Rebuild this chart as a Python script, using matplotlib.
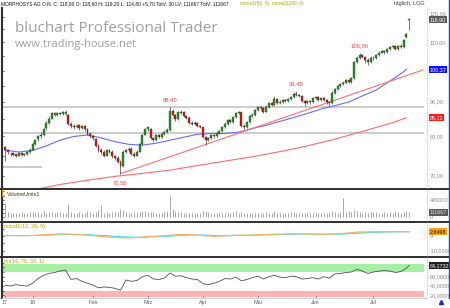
import matplotlib
matplotlib.use("Agg")
import matplotlib.pyplot as plt
from matplotlib.lines import Line2D
import numpy as np

W, H = 450, 308  # figure size in pixels

# ---------------- data ----------------
opens = [
    77.2, 76.4, 75.3, 75.6, 75.3, 75.0, 75.6, 75.2, 75.4, 75.8,
    76.5, 78.0, 79.2, 80.0, 80.5, 82.2, 83.8, 85.0, 86.5, 86.0,
    86.6, 86.3, 86.2, 86.0, 83.5, 83.0, 82.5, 83.2, 82.4, 82.8,
    82.0, 80.8, 80.0, 79.3, 77.5, 76.5, 76.0, 75.0, 76.4, 76.0,
    74.8, 74.5, 73.5, 72.5, 76.0, 76.3, 76.8, 75.5, 75.0, 76.0,
    78.0, 80.5, 82.0, 82.0, 79.5, 79.0, 80.5, 79.8, 80.8, 81.3,
    81.8, 87.2, 86.0, 84.8, 86.5, 87.0, 85.8, 85.3, 83.8, 83.5,
    83.8, 83.0, 82.5, 79.8, 79.0, 79.5, 80.3, 80.0, 81.0, 81.5,
    82.5, 83.5, 84.5, 84.0, 85.5, 86.5, 86.8, 83.0, 82.5, 84.0,
    85.8, 86.0, 87.5, 88.3, 88.0, 87.0, 88.5, 89.5, 89.0, 90.8,
    89.5, 90.0, 90.5, 90.2, 90.8, 91.5, 92.5, 92.0, 91.8, 90.2,
    89.5, 90.2, 89.8, 91.0, 91.3, 90.6, 91.0, 90.5, 89.8, 89.5,
    92.8, 94.0, 94.8, 95.5, 96.0, 96.8, 96.2, 97.5, 103.0, 104.5,
    105.5, 104.8, 103.8, 103.0, 104.5, 104.2, 105.5, 106.3, 106.8, 106.5,
    107.5, 108.2, 108.5, 107.5, 108.8, 108.3, 112.0, 118.6,
]
highs = [
    77.5, 76.8, 75.9, 75.9, 75.5, 75.9, 75.8, 75.7, 76.1, 76.9,
    78.4, 79.4, 80.4, 81.2, 82.4, 84.2, 85.6, 87.0, 86.9, 86.9,
    87.0, 87.2, 87.4, 86.3, 83.9, 83.4, 83.5, 83.5, 83.2, 83.1,
    82.3, 81.2, 80.4, 79.6, 77.9, 76.9, 76.4, 76.8, 76.8, 76.3,
    75.2, 74.9, 73.9, 76.4, 76.7, 77.3, 77.1, 75.9, 76.3, 78.3,
    80.8, 82.3, 82.9, 82.3, 79.9, 80.8, 80.8, 81.0, 81.6, 82.2,
    88.4, 87.8, 86.3, 87.1, 87.5, 87.2, 86.1, 85.6, 84.2, 84.2,
    84.1, 83.3, 82.7, 80.1, 79.9, 80.7, 80.6, 81.3, 81.9, 82.8,
    83.9, 85.0, 84.8, 85.8, 86.9, 87.3, 87.0, 83.4, 84.3, 86.1,
    86.5, 87.8, 88.6, 88.6, 88.3, 88.9, 90.0, 89.8, 91.9, 91.0,
    90.4, 90.9, 90.9, 91.2, 91.9, 92.9, 93.4, 92.4, 92.0, 90.5,
    90.6, 90.5, 91.4, 91.8, 91.6, 91.4, 91.3, 90.8, 90.0, 93.2,
    94.4, 95.3, 95.9, 96.4, 97.3, 97.1, 97.9, 103.4, 105.0, 106.0,
    105.9, 105.2, 104.2, 104.9, 105.0, 105.9, 106.8, 107.3, 107.1, 107.9,
    108.7, 109.0, 108.9, 109.2, 109.3, 111.4, 113.6, 119.2,
]
lows = [
    73.6, 75.4, 74.9, 74.9, 74.6, 74.8, 74.9, 74.9, 75.2, 75.6,
    76.3, 77.6, 78.8, 79.7, 80.2, 81.8, 83.5, 84.8, 85.6, 85.7,
    85.9, 85.9, 85.9, 83.2, 82.4, 82.1, 82.2, 81.9, 82.1, 81.6,
    80.3, 79.6, 79.0, 77.2, 75.8, 75.5, 74.6, 74.8, 75.6, 74.4,
    74.0, 73.2, 70.55, 72.2, 75.6, 75.9, 75.2, 74.7, 74.8, 75.8,
    77.8, 80.3, 81.6, 79.2, 78.6, 78.8, 79.5, 79.7, 80.5, 81.0,
    81.5, 85.6, 84.3, 84.5, 86.2, 85.5, 85.0, 83.5, 83.1, 83.2,
    82.7, 82.2, 79.5, 77.6, 78.7, 79.2, 79.6, 79.8, 80.7, 81.2,
    82.3, 83.3, 83.7, 83.8, 85.2, 86.2, 82.7, 82.0, 82.2, 83.8,
    85.5, 85.8, 87.2, 87.6, 86.5, 86.8, 88.2, 88.6, 88.8, 89.2,
    89.2, 89.7, 89.9, 89.9, 90.5, 91.2, 91.7, 91.4, 89.9, 88.6,
    89.2, 89.4, 89.5, 90.7, 90.2, 90.3, 90.1, 89.4, 88.8, 89.3,
    92.5, 93.7, 94.5, 95.2, 95.8, 95.8, 95.9, 97.2, 102.5, 104.0,
    104.3, 102.6, 101.9, 102.7, 103.8, 103.9, 105.1, 106.0, 105.6, 106.2,
    107.2, 107.9, 107.1, 107.3, 107.9, 108.0, 111.8, 114.8,
]
closes = [
    76.4, 75.8, 75.5, 75.2, 75.0, 75.6, 75.2, 75.4, 75.8, 76.5,
    78.0, 79.0, 80.0, 80.5, 82.0, 83.8, 85.0, 86.5, 86.0, 86.5,
    86.3, 86.8, 87.0, 83.5, 82.8, 82.5, 83.0, 82.4, 82.8, 82.0,
    80.8, 80.0, 79.5, 77.5, 76.5, 76.0, 75.0, 76.4, 76.0, 74.8,
    74.5, 73.5, 72.3, 76.0, 76.3, 76.8, 75.5, 75.0, 76.0, 78.0,
    80.5, 82.0, 82.5, 79.5, 79.0, 80.5, 79.8, 80.8, 81.3, 81.8,
    87.2, 86.0, 84.8, 86.8, 87.0, 85.8, 85.3, 83.8, 83.5, 83.8,
    83.0, 82.5, 79.8, 79.0, 79.5, 80.3, 80.0, 81.0, 81.5, 82.5,
    83.5, 84.5, 84.0, 85.5, 86.5, 86.8, 83.0, 82.5, 84.0, 85.8,
    86.0, 87.5, 88.3, 88.0, 87.0, 88.5, 89.5, 89.0, 90.8, 89.5,
    90.0, 90.5, 90.2, 90.8, 91.5, 92.5, 92.0, 91.8, 90.2, 89.5,
    90.2, 89.8, 91.0, 91.3, 90.6, 91.0, 90.5, 89.8, 89.5, 92.8,
    94.0, 94.8, 95.5, 96.0, 96.8, 96.2, 97.5, 103.0, 104.5, 105.5,
    104.8, 103.8, 103.0, 104.5, 104.2, 105.5, 106.3, 106.8, 106.5, 107.5,
    108.2, 108.5, 107.5, 108.8, 108.3, 111.0, 113.2, 118.9,
]
volume = [
    330000, 115000, 100000, 95000, 110000, 90000, 120000, 100000, 95000, 115000,
    130000, 110000, 120000, 95000, 140000, 100000, 115000, 130000, 110000, 120000,
    125000, 105000, 100000, 290000, 120000, 110000, 95000, 115000, 105000, 100000,
    150000, 120000, 110000, 130000, 180000, 290000, 110000, 120000, 105000, 115000,
    120000, 130000, 190000, 180000, 125000, 110000, 100000, 130000, 115000, 120000,
    150000, 140000, 120000, 130000, 115000, 110000, 100000, 105000, 120000, 150000,
    485000, 200000, 140000, 130000, 115000, 110000, 95000, 100000, 110000, 100000,
    105000, 110000, 150000, 140000, 130000, 110000, 100000, 105000, 95000, 100000,
    110000, 100000, 95000, 120000, 150000, 110000, 130000, 100000, 95000, 110000,
    100000, 105000, 95000, 110000, 100000, 120000, 110000, 105000, 140000, 100000,
    95000, 110000, 100000, 105000, 120000, 130000, 110000, 100000, 95000, 105000,
    100000, 95000, 110000, 100000, 105000, 100000, 110000, 95000, 110000, 150000,
    120000, 110000, 130000, 447000, 120000, 155000, 120000, 180000, 150000, 130000,
    110000, 120000, 100000, 115000, 130000, 120000, 110000, 100000, 115000, 105000,
    120000, 110000, 140000, 130000, 100000, 130000, 140000, 111667,
]

ma50_day = [0, 5, 10, 15, 20, 25, 30, 35, 40, 45, 50, 55, 60, 65, 70, 75,
            80, 85, 90, 95, 100, 105, 110, 115, 120, 125, 130, 135, 140, 145, 146]
ma50 = [76.4, 75.9, 76.3, 77.5, 79.0, 80.0, 80.4, 79.6, 78.6, 77.9, 77.7, 78.2,
        79.0, 79.8, 80.6, 80.8, 80.8, 81.2, 82.2, 83.1, 84.2, 85.3, 86.5, 87.8,
        88.8, 89.9, 91.8, 93.6, 96.5, 99.6, 100.37]
ma200_day = [12, 20, 30, 40, 50, 60, 70, 80, 90, 100, 110, 120, 130, 140, 146]
ma200 = [67.0, 68.0, 69.0, 69.9, 70.6, 71.4, 72.5, 73.6, 74.7, 76.0, 77.5,
         79.3, 81.4, 83.6, 85.22]
trend_day = [42, 152]
trend_val = [70.55, 100.2]
levels = [88.40, 80.90]
short_level = 72.2

macd_day = [0, 4, 8, 12, 16, 20, 24, 28, 32, 36, 40, 44, 48, 52, 56, 60, 64, 68, 72,
            76, 80, 84, 88, 92, 96, 100, 104, 108, 112, 116, 120, 124, 128, 132,
            136, 140, 144, 147]
macd = [0.3, 0.2, 0.2, 0.6, 1.1, 1.4, 1.2, 0.8, 0.2, -0.5, -1.1, -1.3, -1.0, -0.3,
        0.0, 0.6, 1.0, 0.9, 0.2, -0.2, 0.1, 0.6, 0.5, 0.9, 1.1, 1.3, 1.5, 1.4, 1.2,
        1.1, 1.4, 1.9, 2.6, 2.8, 2.9, 2.9, 2.8, 2.85]
signal = [0.4, 0.3, 0.25, 0.35, 0.6, 0.9, 1.1, 1.0, 0.7, 0.3, -0.2, -0.6, -0.9, -0.7,
          -0.4, -0.1, 0.4, 0.7, 0.6, 0.3, 0.1, 0.3, 0.4, 0.6, 0.8, 1.0, 1.2, 1.3,
          1.3, 1.2, 1.2, 1.4, 1.8, 2.2, 2.5, 2.7, 2.8, 2.8]

rsi_day = list(range(0, 147, 2)) + [147]
rsi = [42, 40, 43, 41, 40, 46, 56, 63, 67, 69, 72, 74, 54, 56, 50, 46, 42, 36, 38,
       37, 35, 31, 53, 50, 52, 60, 63, 55, 54, 57, 68, 61, 62, 58, 55, 54, 45, 43,
       46, 50, 56, 55, 59, 51, 54, 58, 61, 55, 60, 63, 59, 58, 61, 60, 55, 56, 58,
       55, 60, 57, 66, 67, 69, 70, 76, 72, 67, 70, 72, 73, 72, 69, 71, 78, 84.17]

month_day = [0, 10, 32, 52, 72, 92, 113, 134]
month_labels = ["17", "18", "Feb", "Mrz", "Apr", "Mai", "Jun", "Jul"]

peaks = [(60, 88.40, "88,40"), (106, 93.40, "93,40"), (129, 106.00, "106,00")]
trough = (42, 70.55, "70,55")

header = ("MORPHOSYS AG O.N. C: 118,90 O: 118,60 H: 119,20 L: 114,80 +5,70 "
          "TotV: 30 LV: 111667 TotV: 111667")

# ---------------- layout helpers ----------------
fig = plt.figure(figsize=(W / 100, H / 100), dpi=100)
fig.patch.set_facecolor("white")
plt.rcParams["font.family"] = ["Liberation Sans", "DejaVu Sans"]


def pane(y0, y1, x0=2, x1=424):
    a = fig.add_axes([x0 / W, 1 - y1 / H, (x1 - x0) / W, (y1 - y0) / H])
    a.set_xlim(-1.1, 152.4)
    for s in ("top", "right"):
        a.spines[s].set_visible(False)
    a.spines["left"].set_color("#303030")
    a.spines["left"].set_linewidth(0.8)
    a.spines["bottom"].set_visible(False)
    a.set_xticks([])
    a.tick_params(axis="y", direction="in", length=1.5, width=0.5,
                  labelleft=False, color="#303030")
    a.patch.set_alpha(0)
    return a


def fline(x0, y0, x1, y1, **kw):
    fig.add_artist(Line2D([x0 / W, x1 / W], [1 - y0 / H, 1 - y1 / H],
                          transform=fig.transFigure, **kw))


def rlabel(a, v, s, fc=None, color="#8a8a8a", z=3):
    kw = dict(transform=a.get_yaxis_transform(), fontsize=3.9, va="center",
              ha="left", color=color, clip_on=False, zorder=z)
    if fc is not None:
        kw["bbox"] = dict(boxstyle="square,pad=0.18", fc=fc, ec="none")
    a.text(1.013, v, s, **kw)


GREEN = "#14a014"
RED = "#e01010"
PANE_COL = "#b8a400"

# ---------------- main price pane ----------------
ax = pane(7, 188)
ax.set_yscale("log")
ax.set_ylim(67.2, 124.0)
ax.set_yticks([70, 75, 80, 85, 90, 95, 100, 105, 110, 115, 120])
ax.minorticks_off()

idx = np.arange(len(closes))
o = np.array(opens)
c = np.array(closes)
lo_b = np.minimum(o, c)
hi_b = np.maximum(o, c)
hgt = np.maximum(hi_b - lo_b, 0.15)
up = c >= o

ax.hlines(levels, -1.1, 152.4, color="#c4c4c4", lw=1.2, zorder=1)
ax.hlines(short_level, -1.1, 13.5, color="#c4c4c4", lw=1.2, zorder=1)

ax.vlines(idx, lows, highs, color="#303030", lw=0.45, zorder=3)
ax.bar(idx[up], hgt[up], bottom=lo_b[up], width=0.72, color=GREEN,
       edgecolor="#303030", linewidth=0.25, zorder=4)
ax.bar(idx[~up], hgt[~up], bottom=lo_b[~up], width=0.72, color=RED,
       edgecolor="#303030", linewidth=0.25, zorder=4)

ax.plot(ma50_day, ma50, color="#6a6aff", lw=0.8, zorder=2)
ax.plot(ma200_day, ma200, color="#ff6a6a", lw=0.8, zorder=2)
ax.plot(trend_day, trend_val, color="#ff7070", lw=0.8, zorder=2)

for d, v, s in peaks:
    ax.annotate(s, (d, v), xytext=(0, 3.5), textcoords="offset points",
                ha="center", va="bottom", fontsize=4.2, color="#ff4040")
ax.annotate(trough[2], (trough[0], trough[1]), xytext=(0, -4.5),
            textcoords="offset points", ha="center", va="top", fontsize=4.2,
            color="#ff4040")

for v in [70, 80, 90, 110]:
    rlabel(ax, v, f"{v},00")
rlabel(ax, 121.0, "120,00", z=2)
rlabel(ax, 118.9, "118,90", fc="#5a5a5a", color="white", z=5)
rlabel(ax, 100.37, "100,37", fc="#1010ff", color="white")
rlabel(ax, 85.22, "85,22", fc="#ff1a1a", color="white")

# ---------------- volume pane ----------------
axv = pane(190, 220)
axv.set_ylim(-62000, 631000)
axv.set_yticks([0, 100000, 200000, 300000, 400000, 500000, 600000])
axv.vlines(idx, 0, volume, color="#a8a8a8", lw=0.7)
rlabel(axv, 400000, "400000")
rlabel(axv, 0, "0")
rlabel(axv, 111667, "111667", fc="#5a5a5a", color="#e0e0e0")
axv.text(0.012, 0.93, "VolumeUnits1", transform=axv.transAxes, fontsize=3.9,
         va="top", ha="left", color="#404000")

# ---------------- macd pane ----------------
axm = pane(223, 255)
axm.set_ylim(-12.67, 8.67)
axm.set_yticks([-10, -5, 0, 5])
md = np.array(macd)
sg = np.array(signal)
axm.fill_between(macd_day, md, sg, where=md >= sg, color="#b8f0b8",
                 lw=0, interpolate=True)
axm.fill_between(macd_day, md, sg, where=md < sg, color="#ffb8b8",
                 lw=0, interpolate=True)
axm.plot(macd_day, sg, color="#40e0f0", lw=0.8)
axm.plot(macd_day, md, color="#ffb060", lw=0.8)
rlabel(axm, 0, "0")
rlabel(axm, -10, "-10,0000")
rlabel(axm, 2.85, "2,8498", fc="#ffa010", color="#202020")
axm.text(0.005, 0.97, "macd1(12, 26, 9)", transform=axm.transAxes,
         fontsize=3.9, va="top", ha="left", color=PANE_COL)

# ---------------- rsi pane ----------------
axr = pane(258, 297)
axr.set_ylim(16.5, 100.0)
axr.set_yticks([20, 30, 40, 50, 60, 70, 80, 90])
axr.axhspan(70, 87, color="#a6f0a6", lw=0, zorder=0)
axr.axhspan(16.5, 30, color="#ffb4b4", lw=0, zorder=0)
axr.plot(rsi_day, rsi, color="#505050", lw=0.6)
for v in [60, 40, 20]:
    rlabel(axr, v, f"{v},0000")
rlabel(axr, 84.17, "84,1732", fc="#202020", color="white")
axr.text(0.005, 0.98, "rsi(14, 70, 30, 1)", transform=axr.transAxes,
         fontsize=3.9, va="top", ha="left", color=PANE_COL)

# month labels under the last pane
for d, s in zip(month_day, month_labels):
    axr.text(d, -0.08, s, transform=axr.get_xaxis_transform(), fontsize=3.9,
             ha="center", va="top", color="#606060", clip_on=False)
    axr.plot([d, d], [0, 0.03], transform=axr.get_xaxis_transform(),
             color="#606060", lw=0.5, clip_on=False)

# ---------------- frame lines ----------------
for y in (188.5, 221.5, 256.5):
    fline(0, y, 450, y, color="#202020", lw=1.3)
fline(0, 298, 427, 298, color="#c8c8c8", lw=0.6)
fline(427, 7, 427, 298, color="#e6c050", lw=0.6, ls=(0, (1.5, 1.5)))
fline(448.5, 0, 448.5, 298, color="#3040c0", lw=1.0)
fline(1, 7, 1, 298, color="#303030", lw=0.8)
fig.add_artist(plt.Rectangle((1 / W, 1 - 197 / H), 2 / W, 8 / H,
                             transform=fig.transFigure, color="#ff9000", lw=0))
fig.add_artist(Line2D([441 / W], [1 - 302 / H], marker="^", ms=3,
                      color="#2030c0", transform=fig.transFigure))

# ---------------- header and watermark ----------------
fig.text(1 / W, 1 - 4 / H, header, fontsize=3.55, va="center", ha="left",
         color="#101010")
fig.text(240 / W, 1 - 4 / H, "move1(50, 0)  move2(200, 0)", fontsize=3.55,
         va="center", ha="left", color=PANE_COL)
fig.text(425 / W, 1 - 4 / H, "täglich, LOG", fontsize=4.0, va="center",
         ha="right", color="#404040")
fig.text(15 / W, 1 - 28 / H, "bluchart Professional Trader",
         family=["Open Sans", "DejaVu Sans"], fontsize=11.0, color="#a0a0a0",
         va="center", ha="left")
fig.text(15 / W, 1 - 44 / H, "www.trading-house.net",
         family=["Open Sans", "DejaVu Sans"], fontsize=8, color="#a0a0a0",
         va="center", ha="left")

fig.savefig("out.png", dpi=100)
